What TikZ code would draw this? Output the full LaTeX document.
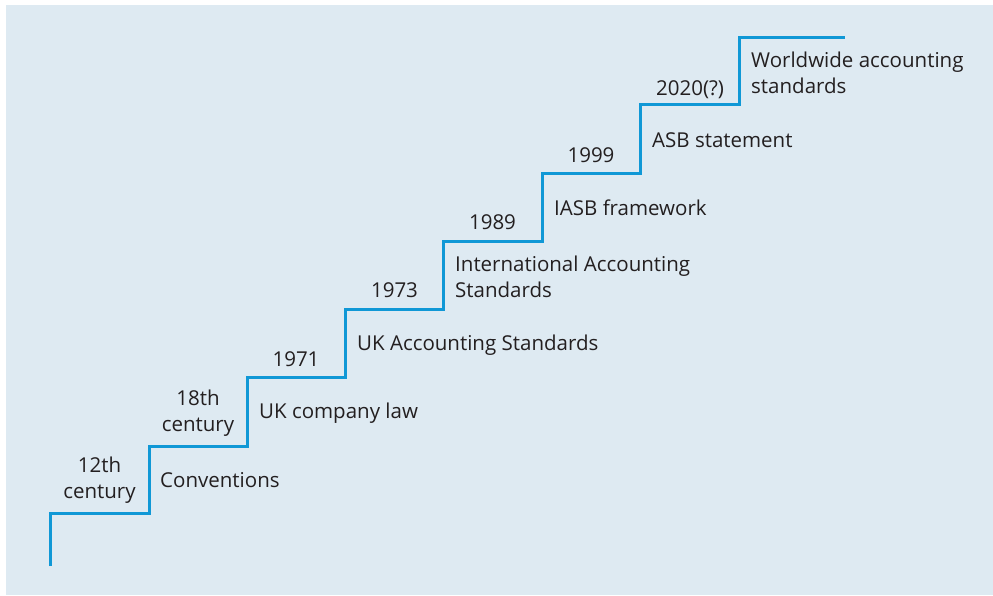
\documentclass[tikz,border=0pt]{standalone}
\usepackage{fontspec}
\setmainfont{Open Sans}
\definecolor{stairblue}{RGB}{16,152,214}
\definecolor{panelbg}{RGB}{222,234,242}
\definecolor{textgrey}{RGB}{35,31,32}
\tikzset{
	labeltext/.style={inner sep=0pt, text=textgrey, font=\fontsize{20.5}{26}\selectfont},
	year/.style={labeltext, anchor=base, align=center},
	event/.style={labeltext, anchor=base west, align=left},
	stair/.style={draw=stairblue, line width=3pt}
}
\begin{document}
\begin{tikzpicture}[x=1pt,y=-1pt]
	\useasboundingbox (0,0) rectangle (993,595);
	\fill [panelbg] (6,5) rectangle (993,595);
	% corners of the staircase
	\coordinate (c0) at (50,566);
	\coordinate (c1) at (149,513);
	\coordinate (c2) at (247,446);
	\coordinate (c3) at (345,377);
	\coordinate (c4) at (443,309);
	\coordinate (c5) at (542,241);
	\coordinate (c6) at (640,173);
	\coordinate (c7) at (739,104);
	\coordinate (top) at (845,37);
	\draw [stair] (c0) |- (c1) |- (c2) |- (c3) |- (c4) |- (c5) |- (c6) |- (c7) |- (top);
	% years on the treads (base = last line)
	\node (y12) [year] at (99.5,498) {12th\\century};
	\node (y18) [year] at (198,431) {18th\\century};
	\node (y1971) [year] at (296,366) {1971};
	\node (y1973) [year] at (394.5,297) {1973};
	\node (y1989) [year] at (492.5,229) {1989};
	\node (y1999) [year] at (591,162) {1999};
	\node (y2020) [year] at (690,95) {2020(?)};
	% events beside the risers
	\node (conv) [event] at (160,487) {Conventions};
	\node (uklaw) [event] at (259,418) {UK company law};
	\node (ukstd) [event] at (357,350) {UK Accounting Standards};
	\node (ias) [event] at (455,297) {International Accounting\\Standards};
	\node (iasb) [event] at (554,215) {IASB framework};
	\node (asb) [event] at (652,147) {ASB statement};
	\node (world) [event] at (751,93) {Worldwide accounting\\standards};
\end{tikzpicture}
\end{document}
